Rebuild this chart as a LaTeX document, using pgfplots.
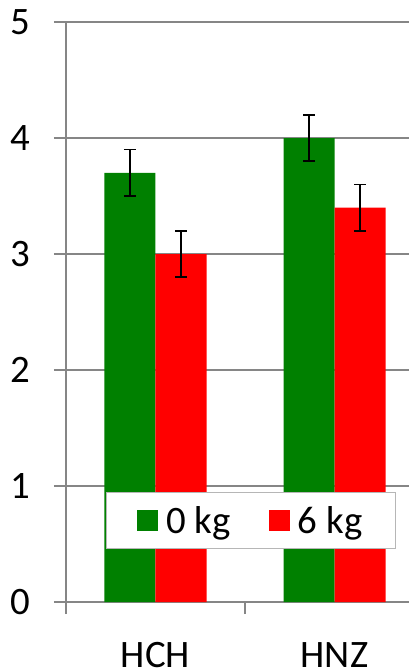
\documentclass[border=0pt]{standalone}
\usepackage{pgfplots}
\pgfplotsset{compat=1.18}
\usepackage{fontspec}
\setmainfont{Carlito}
\definecolor{grid}{RGB}{134,134,134}
\definecolor{zero}{RGB}{0,128,0}
\definecolor{six}{RGB}{255,0,0}

\begin{document}
\begin{tikzpicture}
\begin{axis}[
  name=ax,
  scale only axis,
  width=343bp, height=580bp,
  xmin=0, xmax=1.9162,
  ymin=0, ymax=5,
  ybar=0pt, bar width=51bp,
  axis x line*=bottom, axis y line*=left,
  axis line style={grid, line width=1.2bp},
  xtick={0,1}, xticklabels={},
  major x tick style={grid, line width=1.2bp},
  extra x ticks={0.5,1.5}, extra x tick labels={HCH,HNZ},
  extra x tick style={grid=none, major tick length=0pt, tick style={draw=none}},
  ytick={0,1,2,3,4,5},
  ymajorgrids=true,
  major y grid style={grid, line width=1.2bp},
  major y tick style={grid, line width=1.2bp},
  major tick length=12bp,
  tick align=outside,
  tick label style={font=\fontsize{39}{42}\selectfont},
  /pgf/number format/assume math mode=true,
  yticklabel style={anchor=east, inner sep=0pt, xshift=-24bp},
  xticklabel style={anchor=north, inner sep=0pt, yshift=-40bp},
  legend columns=2,
  legend style={at={(0.1166,0.0914)}, anchor=south west,
    draw=grid!60, line width=1bp, fill=white,
    font=\fontsize{39}{42}\selectfont,
    inner xsep=31bp, inner ysep=12bp,
    /tikz/every odd column/.append style={column sep=6bp},
    /tikz/every even column/.append style={column sep=36bp}},
  legend image code/.code={\fill[#1,draw=none] (0bp,-10.5bp) rectangle (21bp,10.5bp);},
  error bars/error mark options={rotate=90, mark size=6bp, line width=1.5bp, black},
  error bars/error bar style={line width=1.5bp, black},
]
\addplot[fill=zero, draw=none, error bars/.cd, y dir=both, y explicit]
  coordinates {(0.5,3.7) +- (0,0.2) (1.5,4.0) +- (0,0.2)};
\addlegendentry{0 kg}
\addplot[fill=six, draw=none, error bars/.cd, y dir=both, y explicit]
  coordinates {(0.5,3.0) +- (0,0.2) (1.5,3.4) +- (0,0.2)};
\addlegendentry{6 kg}
\end{axis}
\pgfresetboundingbox
\path (ax.south west) ++(-66bp,-69bp) rectangle ++(409bp,671bp);
\end{tikzpicture}
\end{document}
